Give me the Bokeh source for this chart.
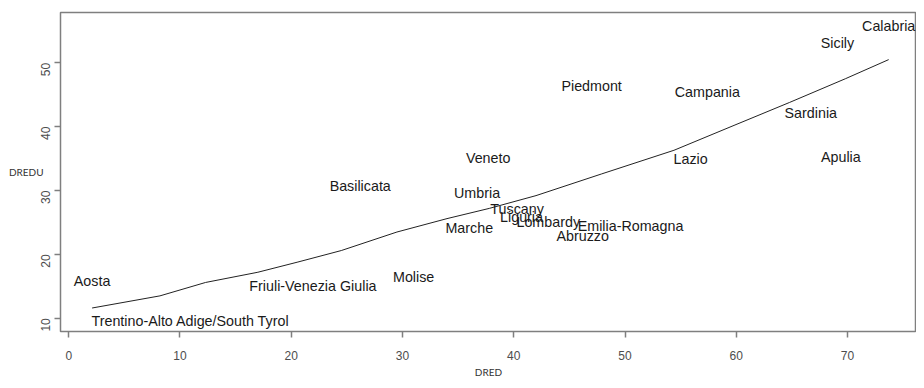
from bokeh.plotting import figure
from bokeh.models import ColumnDataSource, FixedTicker, Range1d
from bokeh.core.properties import value
from bokeh.embed import file_html
from bokeh.resources import INLINE
import math

regions = ["Calabria", "Sicily", "Campania", "Sardinia", "Lazio", "Apulia", "Piedmont",
           "Veneto", "Basilicata", "Umbria", "Tuscany", "Liguria", "Lombardy",
           "Emilia-Romagna", "Abruzzo", "Marche", "Molise", "Friuli-Venezia Giulia",
           "Aosta", "Trentino-Alto Adige/South Tyrol"]
dred = [73.7, 69.1, 57.4, 66.7, 55.9, 69.4, 47.0,
        37.7, 26.2, 36.7, 40.3, 40.7, 43.1,
        50.5, 46.2, 36.0, 31.0, 21.95,
        2.1, 10.95]
dredu = [55.8, 53.1, 45.4, 42.1, 35.0, 35.2, 46.4,
         35.1, 30.7, 29.6, 27.1, 25.8, 25.1,
         24.4, 22.95, 24.1, 16.4, 15.1,
         15.9, 9.64]

# smooth (lowess) curve
smooth_x = [2.1, 8.2, 12.3, 17.0, 20.6, 24.5, 29.5, 34.0, 37.8, 42.0, 47.9, 54.4, 59.8, 64.8, 69.8, 73.7]
smooth_y = [11.6, 13.5, 15.6, 17.2, 18.8, 20.6, 23.5, 25.6, 27.2, 29.2, 32.6, 36.3, 40.2, 43.8, 47.5, 50.5]

x_ticks = [0, 10, 20, 30, 40, 50, 60, 70]
y_ticks = [10, 20, 30, 40, 50]

p = figure(width=916, height=380, output_backend="svg", toolbar_location=None,
           x_range=Range1d(-0.74, 76.2), y_range=Range1d(7.92, 57.88),
           min_border_left=60, min_border_right=0, min_border_top=12, min_border_bottom=49)
p.background_fill_color = "white"
p.border_fill_color = "white"
p.xgrid.visible = False
p.ygrid.visible = False
p.outline_line_color = "#7f7f7f"
p.outline_line_width = 1.5

for ax in (p.xaxis, p.yaxis):
    ax.axis_line_color = None
    ax.major_tick_line_color = "#7f7f7f"
    ax.major_tick_line_width = 1.5
    ax.major_tick_out = 6
    ax.major_tick_in = 0
    ax.minor_tick_line_color = None
    ax.major_label_text_font = "Liberation Sans"
    ax.major_label_text_font_size = "12px"
    ax.major_label_text_color = "#4d4d4d"
    ax.axis_label_text_font = "Lato"
    ax.axis_label_text_font_size = "10px"
    ax.axis_label_text_font_style = "normal"
    ax.axis_label_text_color = "#333333"

p.xaxis.major_label_standoff = 13
p.yaxis.major_label_standoff = 9
p.xaxis.ticker = FixedTicker(ticks=x_ticks)
p.yaxis.ticker = FixedTicker(ticks=y_ticks)
p.yaxis.major_label_orientation = math.pi / 2

p.xaxis.axis_label = "DRED"
p.xaxis.axis_label_standoff = 3
p.yaxis.axis_label = "DREDU"
p.yaxis.axis_label_standoff = -10
try:
    p.yaxis.axis_label_orientation = "horizontal"
except Exception:
    pass

src = ColumnDataSource(dict(x=dred, y=dredu, name=regions))
p.line(smooth_x, smooth_y, line_color="#222222", line_width=1)
p.text(x="x", y="y", text="name", source=src, text_align="center", text_baseline="middle",
       text_font=value("Liberation Sans"), text_font_size="14.3px", text_color="#1a1a1a")

open("out.html", "w").write(file_html(p, INLINE))
